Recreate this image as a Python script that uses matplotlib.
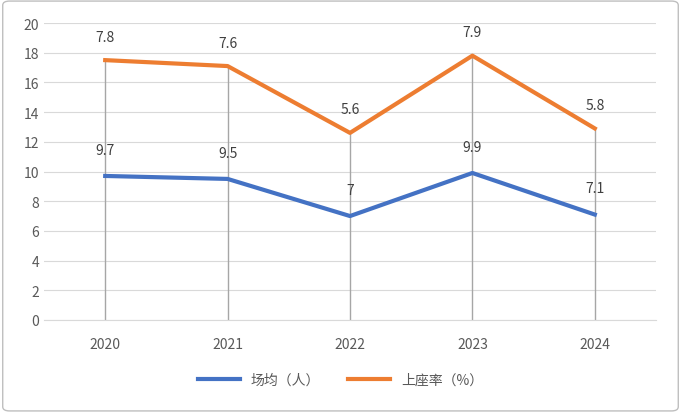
import matplotlib
matplotlib.use("Agg")
import matplotlib.pyplot as plt
from matplotlib.patches import FancyBboxPatch

years = ["2020", "2021", "2022", "2023", "2024"]
avg_people = [9.7, 9.5, 7, 9.9, 7.1]
occupancy = [7.8, 7.6, 5.6, 7.9, 5.8]
yticks = list(range(0, 21, 2))

plt.rcParams["font.family"] = ["Noto Sans CJK SC"]
fig = plt.figure(figsize=(6.81, 4.14), dpi=100)
fig.patches.append(FancyBboxPatch((0.004, 0.005), 0.992, 0.99, boxstyle="round,pad=0,rounding_size=0.01",
                                  transform=fig.transFigure, fill=False, edgecolor="#bfbfbf", lw=1))
ax = fig.add_axes([44/681, 1-321/414, 612/681, 297/414])
x = list(range(len(years)))
stacked = [a + b for a, b in zip(avg_people, occupancy)]
blue = "#4472c4"; orange = "#ed7d31"
for xi, s in zip(x, stacked):
    ax.plot([xi, xi], [0, s], color="#a6a6a6", lw=1, zorder=1)
ax.plot(x, avg_people, color=blue, lw=3, zorder=3, label="场均（人）")
ax.plot(x, stacked, color=orange, lw=3, zorder=3, label="上座率（%）")
for xi, v in zip(x, avg_people):
    ax.annotate(f"{v:g}", (xi, v), xytext=(0, 16), textcoords="offset points", ha="center", fontsize=10, color="#404040")
for xi, s, v in zip(x, stacked, occupancy):
    ax.annotate(f"{v:g}", (xi, s), xytext=(0, 14), textcoords="offset points", ha="center", fontsize=10, color="#404040")
ax.set_xlim(-0.5, 4.5)
ax.set_ylim(0, 20)
ax.set_yticks(yticks)
ax.set_xticks(x)
ax.set_xticklabels(years)
ax.grid(axis="y", color="#d9d9d9", lw=0.8)
ax.set_axisbelow(True)
for sp in ["top", "right", "left"]:
    ax.spines[sp].set_visible(False)
ax.spines["bottom"].set_color("#d9d9d9")
ax.tick_params(length=0, colors="#595959", labelsize=10)
ax.tick_params(axis="x", pad=12)
fig.legend(loc="center", bbox_to_anchor=(0.5, 1-381/414), ncol=2, frameon=False, fontsize=10,
           handlelength=3, columnspacing=2, labelcolor="#595959")
fig.savefig("out.png", dpi=100)
